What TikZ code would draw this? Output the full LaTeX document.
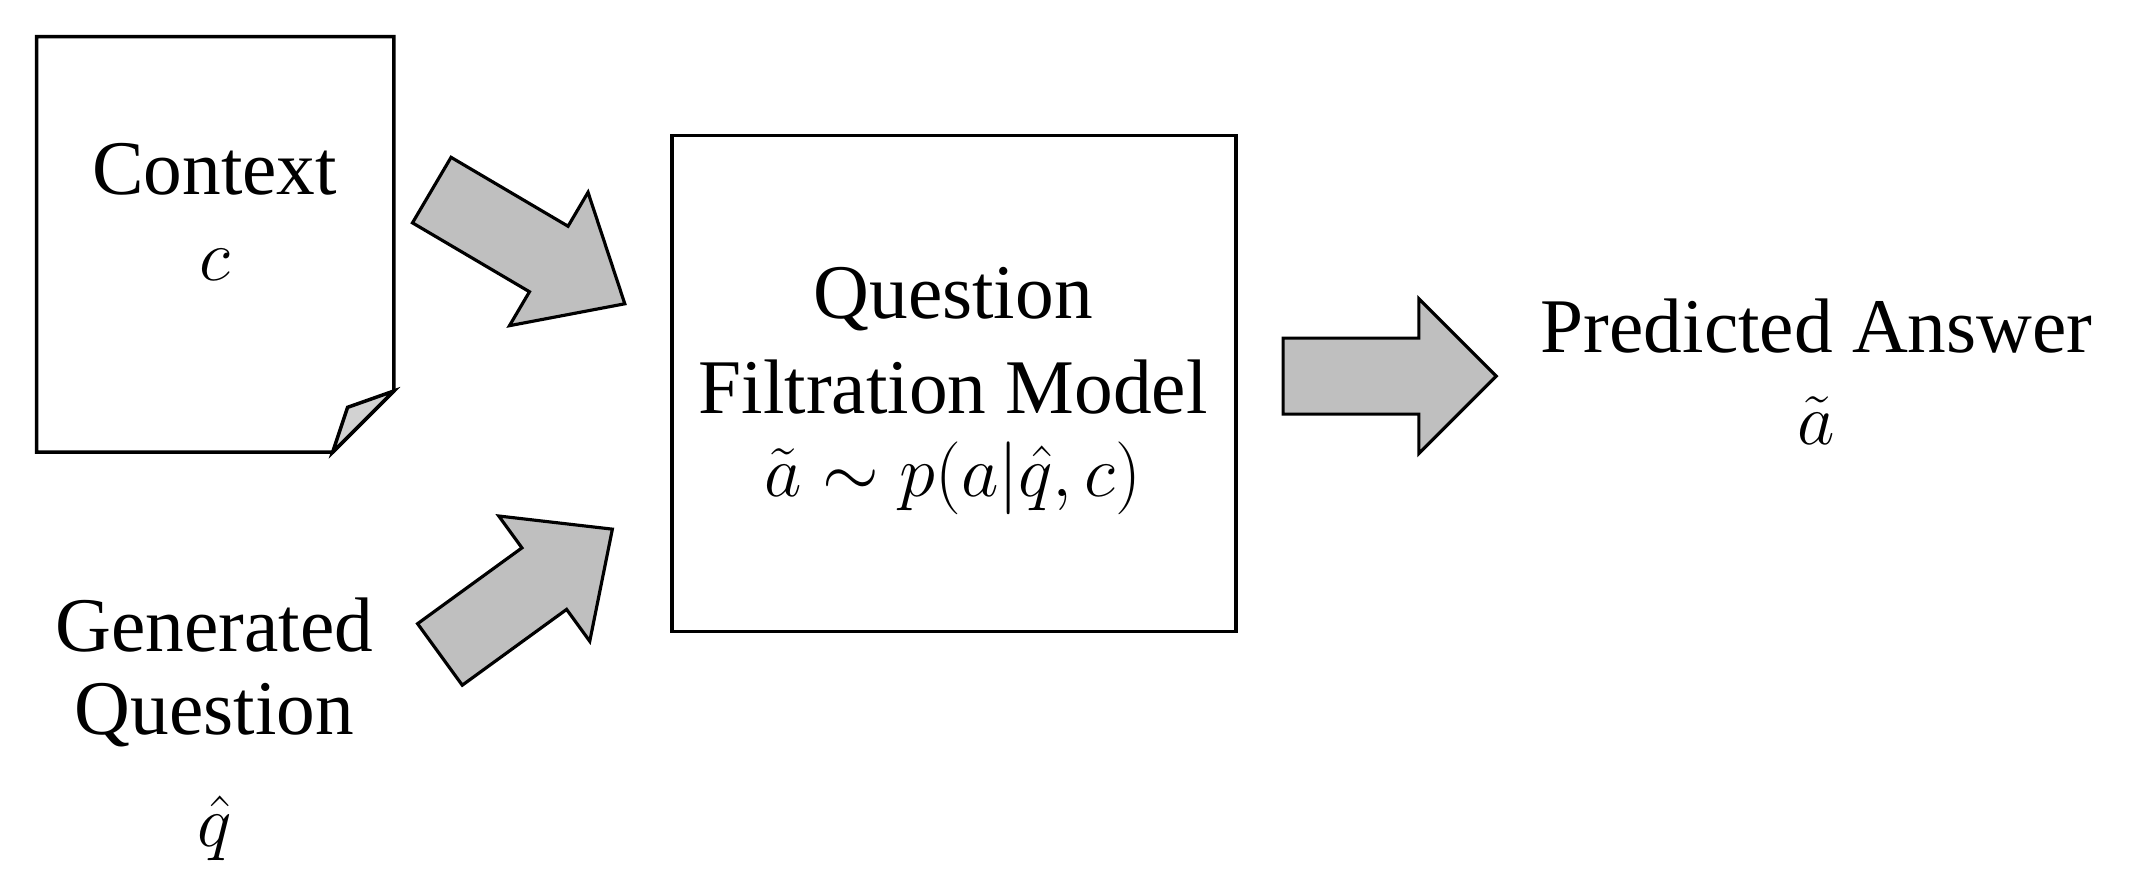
\documentclass[tikz,border=0pt]{standalone}
\usepackage{fontspec}
\setmainfont{Liberation Serif}
\begin{document}
\begin{tikzpicture}[x=0.01358cm,y=-0.01358cm,
  txt/.style={font=\fontsize{22}{26}\selectfont, inner sep=0pt},
  barrow/.style={draw=black, fill=gray!50, line width=0.9pt, line join=miter}]
\useasboundingbox (0,0) rectangle (1568,658);
% context document
\draw[line width=1pt, fill=white] (27,27) -- (290,27) -- (290,288) -- (245,333) -- (27,333) -- cycle;
\draw[line width=1pt, fill=gray!35] (290,288) -- (245,333) -- (256,300) -- cycle;
\node[txt] (ctx) at (158,125) {Context};
\node[txt] (cv) at (158,195) {$c$};
% model box
\node[draw, line width=1pt, minimum width=5.64cm, minimum height=4.96cm] (box) at (702.5,282.5) {};
\node[txt] (q1) at (702,220) {Question};
\node[txt] (q2) at (702,285) {Filtration Model};
\node[txt, font=\fontsize{20}{24}\selectfont] (q3) at (702,352) {$\tilde{a}\sim p(a|\hat{q},c)$};
% output
\node[txt] (pa) at (1338,240) {Predicted Answer};
\node[txt] (av) at (1338,310) {$\tilde{a}$};
% generated question
\node[txt] (g1) at (158,460) {Generated};
\node[txt] (g2) at (158,527) {Question};
\node[txt] (g3) at (158,610) {$\hat{q}$};
% block arrows
\begin{scope}[shift={(318,140)}, rotate=-30.5]
\draw[barrow] (0,-28) -- (100,-28) -- (100,-57) -- (165,0) -- (100,57) -- (100,28) -- (0,28) -- cycle;
\end{scope}
\begin{scope}[shift={(324,482)}, rotate=36]
\draw[barrow] (0,-28) -- (95,-28) -- (95,-57) -- (157,0) -- (95,57) -- (95,28) -- (0,28) -- cycle;
\end{scope}
\begin{scope}[shift={(945,277)}]
\draw[barrow] (0,-28) -- (100,-28) -- (100,-57) -- (157,0) -- (100,57) -- (100,28) -- (0,28) -- cycle;
\end{scope}
\end{tikzpicture}
\end{document}
